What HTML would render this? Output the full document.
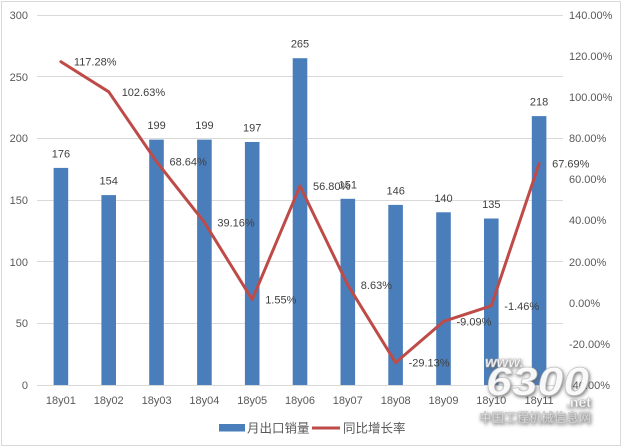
<!DOCTYPE html>
<html><head><meta charset="utf-8">
<style>
html,body{margin:0;padding:0;background:#fff;}
svg{display:block;}
text{font-family:"Liberation Sans","Noto Sans CJK SC",sans-serif;}
</style></head>
<body>
<svg width="623" height="448" viewBox="0 0 623 448" xmlns="http://www.w3.org/2000/svg">
<defs>
<filter id="sh" x="-20%" y="-40%" width="140%" height="180%">
<feDropShadow dx="1" dy="1.5" stdDeviation="1.8" flood-color="#606060" flood-opacity="0.9"/>
</filter>
</defs>
<rect x="0" y="0" width="623" height="448" fill="#fff"/>
<rect x="1.5" y="1.5" width="619" height="444" fill="none" stroke="#d9d9d9" stroke-width="1"/>
<g stroke="#d9d9d9" stroke-width="1">
<line x1="37" y1="15.5" x2="563" y2="15.5"/>
<line x1="37" y1="76.5" x2="563" y2="76.5"/>
<line x1="37" y1="138.5" x2="563" y2="138.5"/>
<line x1="37" y1="200.5" x2="563" y2="200.5"/>
<line x1="37" y1="261.5" x2="563" y2="261.5"/>
<line x1="37" y1="323.5" x2="563" y2="323.5"/>
<line x1="37" y1="385.5" x2="563" y2="385.5"/>
</g>
<g font-size="11" fill="#595959" text-anchor="end">
<text x="28" y="19">300</text>
<text x="28" y="81">250</text>
<text x="28" y="142">200</text>
<text x="28" y="204">150</text>
<text x="28" y="266">100</text>
<text x="28" y="327">50</text>
<text x="28" y="389">0</text>
</g>
<g font-size="11" fill="#595959">
<text x="569" y="19">140.00%</text>
<text x="569" y="60">120.00%</text>
<text x="569" y="101">100.00%</text>
<text x="569" y="142">80.00%</text>
<text x="569" y="183">60.00%</text>
<text x="569" y="224">40.00%</text>
<text x="569" y="266">20.00%</text>
<text x="569" y="307">0.00%</text>
<text x="569" y="348">-20.00%</text>
<text x="569" y="389">-40.00%</text>
</g>
<g fill="#4A7EBB">
<rect x="53.6" y="167.9" width="14.6" height="217.1"/>
<rect x="101.4" y="195.1" width="14.6" height="189.9"/>
<rect x="149.2" y="139.6" width="14.6" height="245.4"/>
<rect x="197.1" y="139.6" width="14.6" height="245.4"/>
<rect x="244.9" y="142.0" width="14.6" height="243.0"/>
<rect x="292.7" y="58.2" width="14.6" height="326.8"/>
<rect x="340.5" y="198.8" width="14.6" height="186.2"/>
<rect x="388.3" y="204.9" width="14.6" height="180.1"/>
<rect x="436.2" y="212.3" width="14.6" height="172.7"/>
<rect x="484.0" y="218.5" width="14.6" height="166.5"/>
<rect x="531.8" y="116.1" width="14.6" height="268.9"/>
</g>
<g font-size="11" fill="#404040" text-anchor="middle">
<text x="60.9" y="157.4">176</text>
<text x="108.7" y="184.6">154</text>
<text x="156.6" y="129.1">199</text>
<text x="204.4" y="129.1">199</text>
<text x="252.2" y="131.5">197</text>
<text x="300.0" y="47.7">265</text>
<text x="347.8" y="188.3">151</text>
<text x="395.7" y="194.4">146</text>
<text x="443.5" y="201.8">140</text>
<text x="491.3" y="208.0">135</text>
<text x="539.1" y="105.6">218</text>
</g>
<polyline fill="none" stroke="#BE4B48" stroke-width="3" stroke-linejoin="round" stroke-linecap="round"
points="60.91,61.71 108.73,91.82 156.55,161.69 204.37,222.28 252.19,299.59 300.01,186.02 347.83,285.04 395.65,362.66 443.47,321.47 491.29,305.78 539.11,163.64"/>
<g font-size="11" fill="#404040">
<text x="73.9" y="65.7">117.28%</text>
<text x="121.7" y="95.8">102.63%</text>
<text x="169.5" y="165.7">68.64%</text>
<text x="217.4" y="226.3">39.16%</text>
<text x="265.2" y="303.6">1.55%</text>
<text x="313.0" y="190.0">56.80%</text>
<text x="360.8" y="289.0">8.63%</text>
<text x="408.6" y="366.7">-29.13%</text>
<text x="456.5" y="325.5">-9.09%</text>
<text x="504.3" y="309.8">-1.46%</text>
<text x="552.1" y="167.6">67.69%</text>
</g>
<g font-size="11" fill="#595959" text-anchor="middle">
<text x="60.9" y="404">18y01</text>
<text x="108.7" y="404">18y02</text>
<text x="156.6" y="404">18y03</text>
<text x="204.4" y="404">18y04</text>
<text x="252.2" y="404">18y05</text>
<text x="300.0" y="404">18y06</text>
<text x="347.8" y="404">18y07</text>
<text x="395.7" y="404">18y08</text>
<text x="443.5" y="404">18y09</text>
<text x="491.3" y="404">18y10</text>
<text x="539.1" y="404">18y11</text>
</g>
<rect x="219" y="424" width="26" height="7.5" fill="#4A7EBB"/>
<text x="247" y="432.5" font-size="12.5" fill="#595959">月出口销量</text>
<line x1="312" y1="428" x2="340" y2="428" stroke="#BE4B48" stroke-width="3"/>
<text x="343" y="432.5" font-size="12.5" fill="#595959">同比增长率</text>
<g filter="url(#sh)" fill="#ffffff" fill-opacity="0.92" stroke="#bdbdbd" stroke-width="0.6">
<text x="485" y="367" font-family="Liberation Serif, serif" font-style="italic" font-weight="bold" font-size="15">www.</text>
<text x="486" y="395" font-family="Liberation Serif, serif" font-style="italic" font-weight="bold" font-size="40" textLength="103" lengthAdjust="spacingAndGlyphs">6300</text>
<text x="566" y="407" font-family="Liberation Serif, serif" font-weight="bold" font-size="14">.net</text>
<text x="479" y="422" font-size="12.4" font-family="Liberation Sans, Noto Sans CJK SC, sans-serif" textLength="112" lengthAdjust="spacingAndGlyphs">中国工程机械信息网</text>
</g>
</svg>
</body></html>
